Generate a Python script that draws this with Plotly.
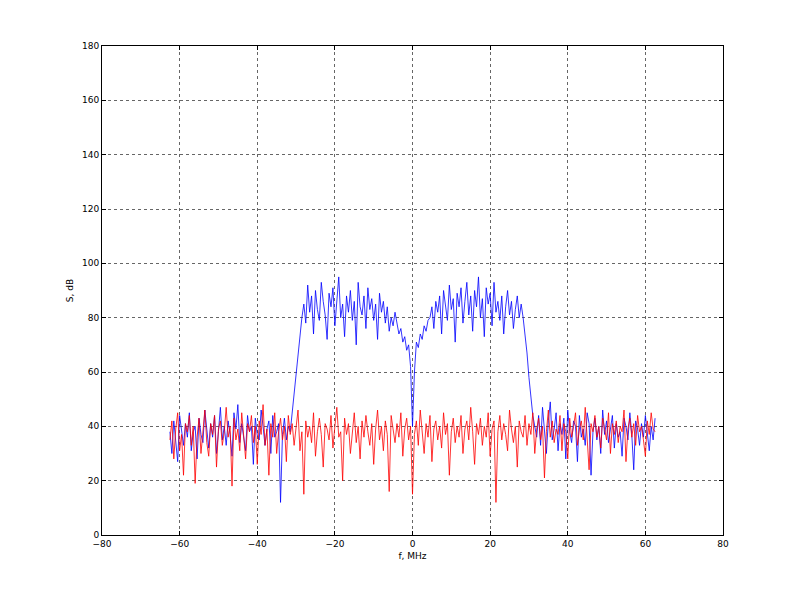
import numpy as np
import plotly.graph_objects as go

freq = [round(-62.5 + 0.5*i, 1) for i in range(251)]

blue = [38,30,42,35,27,44,39,33,41,36,
45,31,38,40,28,43,37,34,46,39,
32,41,36,44,30,38,47,35,40,33,
42,37,29,45,39,48,34,41,36,31,
44,38,40,26,43,37,35,46,40,33,
39,42,30,44,36,38,41,12,37,43,
35,40,38,
45,52,60,68,75,80,
85,78,92,82,88,74,90,83,79,93,
86,81,72,89,84,91,77,87,95,80,
85,73,88,82,90,79,86,70,93,84,
81,88,76,91,83,87,79,85,72,89,
82,86,78,84,75,80,77,82,
78,74,76,71,73,68,70,62,
40,
60,71,69,74,72,77,75,79,
80,84,76,86,82,88,74,90,85,79,
92,83,87,71,89,84,91,78,86,93,
81,88,75,90,84,95,80,87,73,91,
85,89,77,93,82,86,79,88,74,84,
90,81,86,76,83,88,80,85,
80,74,67,58,50,44,
40,36,44,33,47,38,30,42,49,35,
39,45,31,41,37,43,28,46,38,34,
42,40,27,44,36,39,33,45,41,22,
38,43,35,40,30,46,37,42,34,39,
44,32,41,36,38,29,43,40,35,45,
37,24,42,39,33,41,36,44,38,31,
40,35,43]

red = [35,42,28,39,45,31,37,22,41,38,
44,33,40,19,36,43,30,38,46,34,
29,41,37,44,25,39,42,33,38,47,
36,40,18,43,35,39,31,45,37,28,
41,38,44,34,40,26,42,37,48,33,
39,22,41,36,45,30,38,43,35,40,
27,44,37,41,33,39,46,31,38,15,
42,36,40,34,45,29,38,43,37,25,
41,39,35,44,32,40,47,36,38,20,
43,37,41,30,39,45,34,40,28,42,
36,44,38,33,41,26,39,46,35,40,
31,42,37,16,44,38,34,41,36,45,
29,39,43,35,40,15,37,42,33,46,
38,30,41,36,44,27,39,42,35,40,
32,45,37,41,22,38,43,34,40,36,
44,30,39,42,35,47,38,26,41,37,
43,33,40,36,45,29,39,42,12,38,
44,35,41,37,31,46,39,34,40,25,
42,38,36,44,33,41,37,45,30,39,
43,35,40,21,38,46,36,42,34,39,
37,44,31,41,38,28,43,36,40,45,
33,39,42,35,47,37,24,41,38,44,
36,40,32,43,39,35,45,30,41,37,
42,34,40,38,46,27,39,43,36,41,
33,44,38,40,35,29,42,37,45,39,
38]

fig = go.Figure()
fig.add_trace(go.Scatter(x=freq, y=blue, mode="lines", line=dict(color="blue", width=0.8)))
fig.add_trace(go.Scatter(x=freq, y=red, mode="lines", line=dict(color="red", width=0.8)))

ax = dict(showline=True, linecolor="black", linewidth=1, mirror="ticks", ticks="inside",
          ticklen=4, tickcolor="black", showgrid=True, gridcolor="#666666", griddash="dot",
          gridwidth=0.6, zeroline=False, tickfont=dict(size=9, color="black"))
fig.update_xaxes(range=[-80, 80], dtick=20, title=dict(text="f, MHz", font=dict(size=9), standoff=4), **ax)
fig.update_yaxes(range=[0, 180], dtick=20, title=dict(text="S, dB", font=dict(size=9), standoff=6), **ax)
fig.update_layout(width=799, height=600, showlegend=False, plot_bgcolor="white",
                  paper_bgcolor="white", margin=dict(l=94, r=84, t=38, b=73),
                  font=dict(family="DejaVu Sans", color="black"))
fig.write_html("out.html")
